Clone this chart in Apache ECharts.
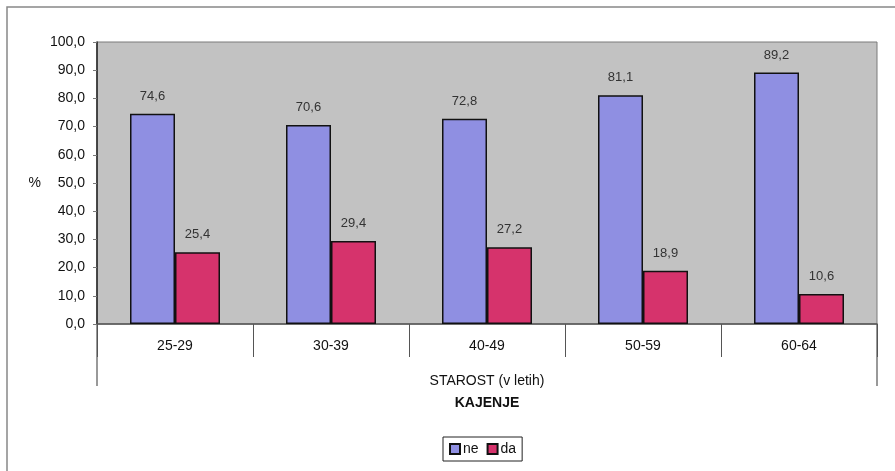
<!DOCTYPE html>
<html><head><meta charset="utf-8">
<script src="https://cdn.jsdelivr.net/npm/echarts@6/dist/echarts.min.js"></script>
<style>html,body{margin:0;padding:0;background:#fff}#c{width:895px;height:471px}</style>
</head><body><div id="c"></div>
<script>
const categories = ['25-29','30-39','40-49','50-59','60-64'];
const ne = [74.6, 70.6, 72.8, 81.1, 89.2];
const da = [25.4, 29.4, 27.2, 18.9, 10.6];
const seriesNames = ['ne','da'];
const fmt = v => v.toFixed(1).replace('.', ',');
const chart = echarts.init(document.getElementById('c'));
const F = 'Liberation Sans, Arial, sans-serif';
const GL = 97, GR = 18, GT = 42, GB = 147;
const midX = GL + (895 - GL - GR) / 2;
chart.setOption({
  animation: false,
  textStyle: {fontFamily: F},
  legend: {data: seriesNames, left: 443, top: 437, width: 88, height: 25,
    itemWidth: 10, itemHeight: 10, itemGap: 8, padding: [5, 6, 5, 6],
    borderColor: '#222', borderWidth: 1, backgroundColor: '#fff',
    textStyle: {fontFamily: F, fontSize: 14, color: '#111', padding: [0,0,0,-2]},
    icon: 'rect'},
  grid: {left: GL, right: GR, top: GT, bottom: GB, show: true,
    backgroundColor: '#c2c2c2', borderColor: '#7a7a7a', borderWidth: 1},
  xAxis: {type: 'category', data: categories,
    name: 'STAROST (v letih)', nameLocation: 'middle', nameGap: 50,
    nameTextStyle: {fontFamily: F, fontSize: 14, color: '#111'},
    axisLine: {lineStyle: {color: '#555', width: 1.5}},
    axisTick: {show: true, alignWithLabel: false, length: 33, lineStyle: {color: '#555'}},
    axisLabel: {fontFamily: F, fontSize: 14, color: '#111', margin: 15}},
  yAxis: {type: 'value', min: 0, max: 100, interval: 10,
    name: '%', nameLocation: 'middle', nameRotate: 0, nameGap: 56,
    nameTextStyle: {fontFamily: F, fontSize: 14, color: '#111'},
    axisLine: {show: true, lineStyle: {color: '#222', width: 1.5}},
    axisTick: {show: true, length: 4, lineStyle: {color: '#777'}},
    splitLine: {show: false},
    axisLabel: {fontFamily: F, fontSize: 14, color: '#111', margin: 12, formatter: v => fmt(v)}},
  series: [
    {name: 'ne', type: 'bar', data: ne, barWidth: 45, barGap: '0%',
     itemStyle: {color: '#8f8fe2', borderColor: '#111', borderWidth: 1.5},
     label: {show: true, position: 'top', distance: 11, fontFamily: F, fontSize: 13, color: '#333', formatter: p => fmt(p.value)}},
    {name: 'da', type: 'bar', data: da, barWidth: 45,
     itemStyle: {color: '#d6336c', borderColor: '#111', borderWidth: 1.5},
     label: {show: true, position: 'top', distance: 11, fontFamily: F, fontSize: 13, color: '#333', formatter: p => fmt(p.value)}}
  ],
  graphic: [
    {type: 'rect', shape: {x: 7, y: 7, width: 895, height: 480}, style: {fill: 'none', stroke: '#888', lineWidth: 1.5}, silent: true},
    {type: 'line', shape: {x1: GL, y1: 471-GB, x2: GL, y2: 386}, style: {stroke: '#777', lineWidth: 1.5}},
    {type: 'line', shape: {x1: 895-GR, y1: 471-GB, x2: 895-GR, y2: 386}, style: {stroke: '#777', lineWidth: 1.5}},
    {type: 'text', x: midX, y: 403, style: {text: 'KAJENJE', x: 0, y: 0, textAlign: 'center', textVerticalAlign: 'middle', fill: '#111', font: 'bold 14px ' + F}}
  ]
});
</script></body></html>
